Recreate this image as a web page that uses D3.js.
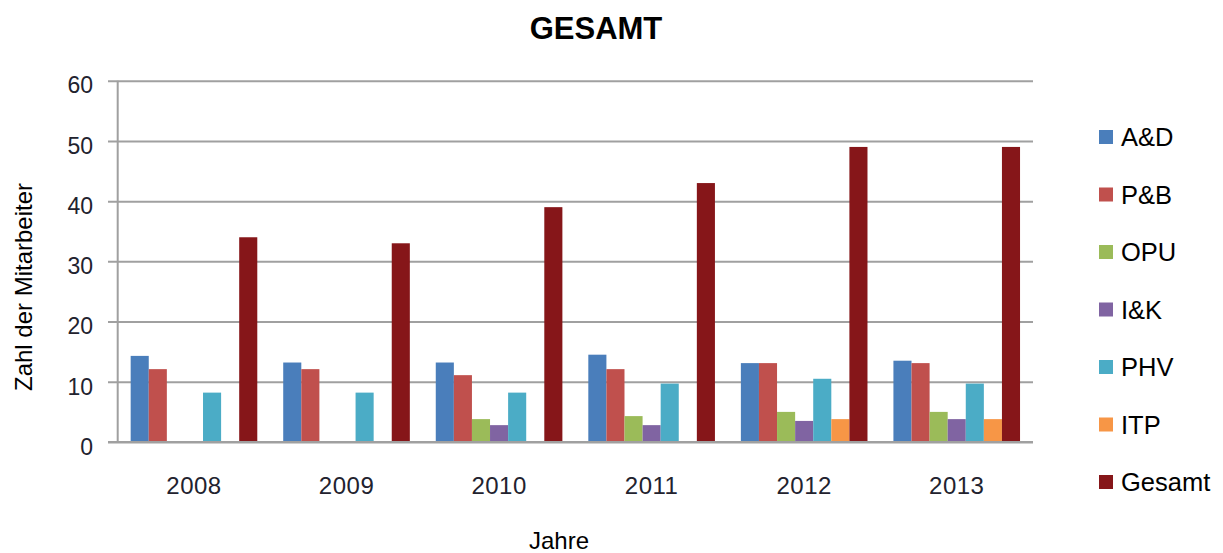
<!DOCTYPE html>
<html>
<head>
<meta charset="utf-8">
<script src="https://cdn.jsdelivr.net/npm/d3@7"></script>
<style>
  body { margin: 0; background: #fff; }
  svg { display: block; font-family: "Liberation Sans", Arial, sans-serif; }
</style>
</head>
<body>
<svg width="1223" height="553"></svg>
<script>
// chart data
var years = ["2008", "2009", "2010", "2011", "2012", "2013"];
var seriesNames = ["A&D", "P&B", "OPU", "I&K", "PHV", "ITP", "Gesamt"];
var seriesColors = ["#4a7ebb", "#c0504d", "#9bbb59", "#8064a2", "#4bacc6", "#f79646", "#861619"];
var valAD     = [14.3, 13.2, 13.2, 14.5, 13.1, 13.5];
var valPB     = [12.1, 12.1, 11.1, 12.1, 13.1, 13.1];
var valOPU    = [0, 0, 3.8, 4.3, 5, 5];
var valIK     = [0, 0, 2.8, 2.8, 3.5, 3.8];
var valPHV    = [8.2, 8.2, 8.2, 9.7, 10.5, 9.7];
var valITP    = [0, 0, 0, 0, 3.8, 3.8];
var valGesamt = [34, 33, 39, 43, 49, 49];
var yTicks = [0, 10, 20, 30, 40, 50, 60];

var allValues = [valAD, valPB, valOPU, valIK, valPHV, valITP, valGesamt];

var svg = d3.select("svg"),
    plotLeft = 117.7,
    plotRight = 1033,
    plotTop = 80.7,
    plotBottom = 442;

var x = d3.scaleBand()
    .domain(years)
    .range([plotLeft, plotRight])
    .paddingInner(0.17)
    .paddingOuter(0.085);

var xs = d3.scaleBand()
    .domain(seriesNames)
    .range([0, x.bandwidth()]);

var y = d3.scaleLinear()
    .domain([0, 60])
    .range([plotBottom, plotTop]);

// gridlines + y tick labels
var yAxis = svg.append("g")
    .attr("class", "y-axis")
    .attr("transform", "translate(108,0)")
    .call(d3.axisLeft(y)
        .tickValues(yTicks)
        .tickSizeInner(-(plotRight - 108))
        .tickSizeOuter(0)
        .tickPadding(15));
yAxis.select(".domain").remove();
yAxis.selectAll(".tick line")
    .attr("stroke", "#a0a0a0")
    .attr("stroke-width", 2);
yAxis.selectAll(".tick text")
    .attr("fill", "#22222e")
    .attr("font-size", 23)
    .attr("font-family", "Liberation Sans, Arial, sans-serif")
    .attr("dy", "0.36em")
    .attr("y", 4);

// vertical axis line
svg.append("line")
    .attr("x1", plotLeft).attr("x2", plotLeft)
    .attr("y1", y(60)).attr("y2", y(0))
    .attr("stroke", "#a0a0a0")
    .attr("stroke-width", 2);

// bars
var table = [];
years.forEach(function(yr, i) {
  seriesNames.forEach(function(s, j) {
    table.push({ year: yr, series: s, value: allValues[j][i], color: seriesColors[j] });
  });
});

svg.append("g")
    .attr("class", "bars")
  .selectAll("rect")
  .data(table.filter(function(d) { return d.value > 0; }))
  .enter().append("rect")
    .attr("x", function(d) { return x(d.year) + xs(d.series); })
    .attr("width", xs.bandwidth())
    .attr("y", function(d) { return y(d.value); })
    .attr("height", function(d) { return y(0) - y(d.value); })
    .attr("fill", function(d) { return d.color; });

// redraw baseline on top of bars
svg.append("line")
    .attr("x1", 108).attr("x2", plotRight)
    .attr("y1", y(0)).attr("y2", y(0))
    .attr("stroke", "#a0a0a0")
    .attr("stroke-width", 2);

// x labels
var xAxis = svg.append("g")
    .attr("class", "x-axis")
    .attr("transform", "translate(0," + plotBottom + ")")
    .call(d3.axisBottom(x).tickSize(0).tickPadding(35));
xAxis.select(".domain").remove();
xAxis.selectAll(".tick text")
    .attr("fill", "#22222e")
    .attr("font-size", 24)
    .attr("letter-spacing", 0.5)
    .attr("font-family", "Liberation Sans, Arial, sans-serif");

// title
svg.append("text")
    .attr("x", 596)
    .attr("y", 39)
    .attr("text-anchor", "middle")
    .attr("font-size", 31)
    .attr("font-weight", "bold")
    .text("GESAMT");

// axis titles
svg.append("text")
    .attr("transform", "translate(32,287) rotate(-90)")
    .attr("text-anchor", "middle")
    .attr("font-size", 24)
    .text("Zahl der Mitarbeiter");

svg.append("text")
    .attr("x", 559)
    .attr("y", 549)
    .attr("text-anchor", "middle")
    .attr("font-size", 24)
    .text("Jahre");

// legend
var legend = svg.append("g")
    .attr("class", "legend")
  .selectAll("g")
  .data(seriesNames)
  .enter().append("g")
    .attr("transform", function(d, i) { return "translate(1099," + (137 + i * 57.5) + ")"; });

legend.append("rect")
    .attr("x", 0)
    .attr("y", -7)
    .attr("width", 14)
    .attr("height", 14)
    .attr("fill", function(d, i) { return seriesColors[i]; });

legend.append("text")
    .attr("x", 22)
    .attr("y", 0)
    .attr("dy", "0.36em")
    .attr("font-size", 25.5)
    .text(function(d) { return d; });
</script>
</body>
</html>
